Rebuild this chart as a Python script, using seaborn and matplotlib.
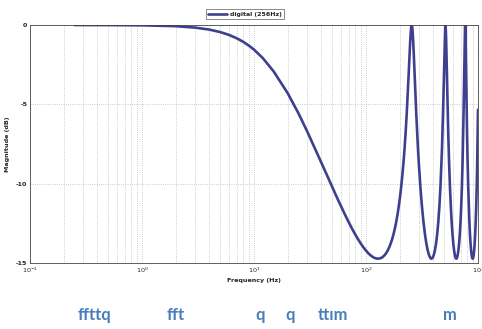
import numpy as np
import pandas as pd
import matplotlib
matplotlib.use("Agg")
import matplotlib.pyplot as plt
import seaborn as sns
from matplotlib.ticker import LogLocator, LogFormatterMathtext, NullFormatter

# magnitude response (Hz, dB)
freq_hz = [
    0.25, 0.5, 1, 2, 3, 4, 5, 6, 7, 8, 9, 10, 12, 15, 20, 25, 30, 35, 40, 45,
    50, 55, 60, 65, 70, 75, 80, 85, 90, 95, 100, 105, 110, 115, 120, 128,
    136, 141, 146, 151, 156, 161, 166, 171, 176, 181, 186, 191, 196, 201, 206,
    211, 216, 221, 226, 231, 236, 241, 244, 246, 248, 250, 252, 254, 256,
    258, 260, 262, 264, 266, 268, 271, 276, 281, 286, 291, 296, 306, 316, 326,
    336, 346, 356, 366, 376, 384,
    392, 402, 412, 422, 432, 442, 452, 462, 472, 477, 482, 487, 492, 497, 500,
    502, 504, 506, 508, 510, 512,
    514, 516, 518, 520, 522, 524, 527, 532, 537, 542, 552, 562, 572, 582, 592,
    602, 612, 622, 632, 640,
    648, 658, 668, 678, 688, 698, 708, 718, 728, 738, 743, 748, 753, 756, 758,
    760, 762, 764, 766, 768,
    770, 772, 774, 776, 778, 780, 783, 788, 793, 798, 808, 818, 828, 838, 848,
    858, 868, 878, 888, 896, 904, 914, 924, 934, 944, 954, 964, 974, 984, 994, 1000,
]
mag_db = [
    -0.001, -0.005, -0.019, -0.074, -0.166, -0.29, -0.447, -0.628, -0.835, -1.055, -1.30, -1.55, -2.09, -2.93, -4.30, -5.58, -6.74, -7.78, -8.68, -9.49,
    -10.22, -10.87, -11.44, -11.96, -12.42, -12.83, -13.19, -13.51, -13.78, -14.02, -14.22, -14.39, -14.52, -14.62, -14.69, -14.73,
    -14.69, -14.62, -14.52, -14.39, -14.22, -14.02, -13.78, -13.51, -13.19, -12.83, -12.42, -11.96, -11.44, -10.87, -10.22,
    -9.49, -8.68, -7.78, -6.74, -5.58, -4.30, -2.93, -2.09, -1.55, -1.055, -0.628, -0.29, -0.074, 0.0,
    -0.074, -0.29, -0.628, -1.055, -1.55, -2.09, -2.93, -4.30, -5.58, -6.74, -7.78, -8.68, -10.22, -11.44, -12.42,
    -13.19, -13.78, -14.22, -14.52, -14.69, -14.73,
    -14.69, -14.52, -14.22, -13.78, -13.19, -12.42, -11.44, -10.22, -8.68, -7.78, -6.74, -5.58, -4.30, -2.93, -2.09,
    -1.55, -1.055, -0.628, -0.29, -0.074, 0.0,
    -0.074, -0.29, -0.628, -1.055, -1.55, -2.09, -2.93, -4.30, -5.58, -6.74, -8.68, -10.22, -11.44, -12.42, -13.19,
    -13.78, -14.22, -14.52, -14.69, -14.73,
    -14.69, -14.52, -14.22, -13.78, -13.19, -12.42, -11.44, -10.22, -8.68, -6.74, -5.58, -4.30, -2.93, -2.09, -1.55,
    -1.055, -0.628, -0.29, -0.074, 0.0,
    -0.074, -0.29, -0.628, -1.055, -1.55, -2.09, -2.93, -4.30, -5.58, -6.74, -8.68, -10.22, -11.44, -12.42, -13.19,
    -13.78, -14.22, -14.52, -14.69, -14.73, -14.69, -14.52, -14.22, -13.78, -13.19, -12.42, -11.44, -10.22, -8.68, -6.74, -5.34,
]
series_name = "digital (256Hz)"
y_ticks = [0, -5, -10, -15]

# stray text fragments under the chart (x in pixels)
stray_text = ["ffttq", "fft", "q", "q", "ttım", "m"]
stray_x = [78, 167, 255, 285, 318, 443]

df = pd.DataFrame({"freq": freq_hz, "mag": mag_db, "series": series_name})

sns.set_style("white")
plt.rcParams["font.family"] = ["DejaVu Sans"]
plt.rcParams["mathtext.default"] = "bf"

fig = plt.figure(figsize=(4.82, 3.29), dpi=100)
ax = fig.add_axes([30 / 482, 1 - 263 / 329, 448 / 482, 238 / 329])

sns.lineplot(data=df, x="freq", y="mag", hue="series", palette=["#3f3f8f"],
             linewidth=1.9, ax=ax, sort=False, estimator=None)

ax.set_xscale("log")
ax.set_xlim(0.1, 1000)
ax.set_ylim(-15, 0)
ax.set_yticks(y_ticks)
ax.set_yticklabels([str(t) for t in y_ticks])
ax.xaxis.set_major_locator(LogLocator(base=10, numticks=10))
ax.xaxis.set_major_formatter(LogFormatterMathtext())
ax.xaxis.set_minor_locator(LogLocator(base=10, subs=np.arange(2, 10), numticks=100))
ax.xaxis.set_minor_formatter(NullFormatter())

ax.grid(True, which="both", axis="x", linestyle=":", color="#bbbbbb", linewidth=0.6)
ax.grid(True, which="major", axis="y", linestyle=":", color="#bbbbbb", linewidth=0.6)
ax.tick_params(axis="both", which="both", direction="in", labelsize=4.6, length=2.5,
               width=0.5, pad=2)
ax.tick_params(axis="x", which="minor", length=1.5)
for lbl in ax.get_yticklabels():
    lbl.set_fontweight("bold")
for side in ax.spines.values():
    side.set_linewidth(0.6)
    side.set_color("#444444")

ax.set_xlabel("Frequency (Hz)", fontsize=4.6, fontweight="bold", labelpad=2)
ax.set_ylabel("Magnitude (dB)", fontsize=4.6, fontweight="bold")
ax.yaxis.set_label_coords(-20 / 448, 0.5)

leg = ax.legend(loc="center", bbox_to_anchor=(245 / 482, 1 - 14 / 329),
                bbox_transform=fig.transFigure, fontsize=4.5, frameon=True,
                fancybox=False, handlelength=3, borderpad=0.4, handletextpad=0.5)
leg.get_frame().set_edgecolor("#555555")
leg.get_frame().set_linewidth(0.6)
for t in leg.get_texts():
    t.set_fontweight("bold")

for txt, px in zip(stray_text, stray_x):
    fig.text(px / 482, 1 - 315 / 329, txt, color="#4a7ebb", fontsize=12,
             fontweight="bold", family=["Lato", "DejaVu Sans"], ha="left", va="center")

fig.savefig("out.png", dpi=100)
